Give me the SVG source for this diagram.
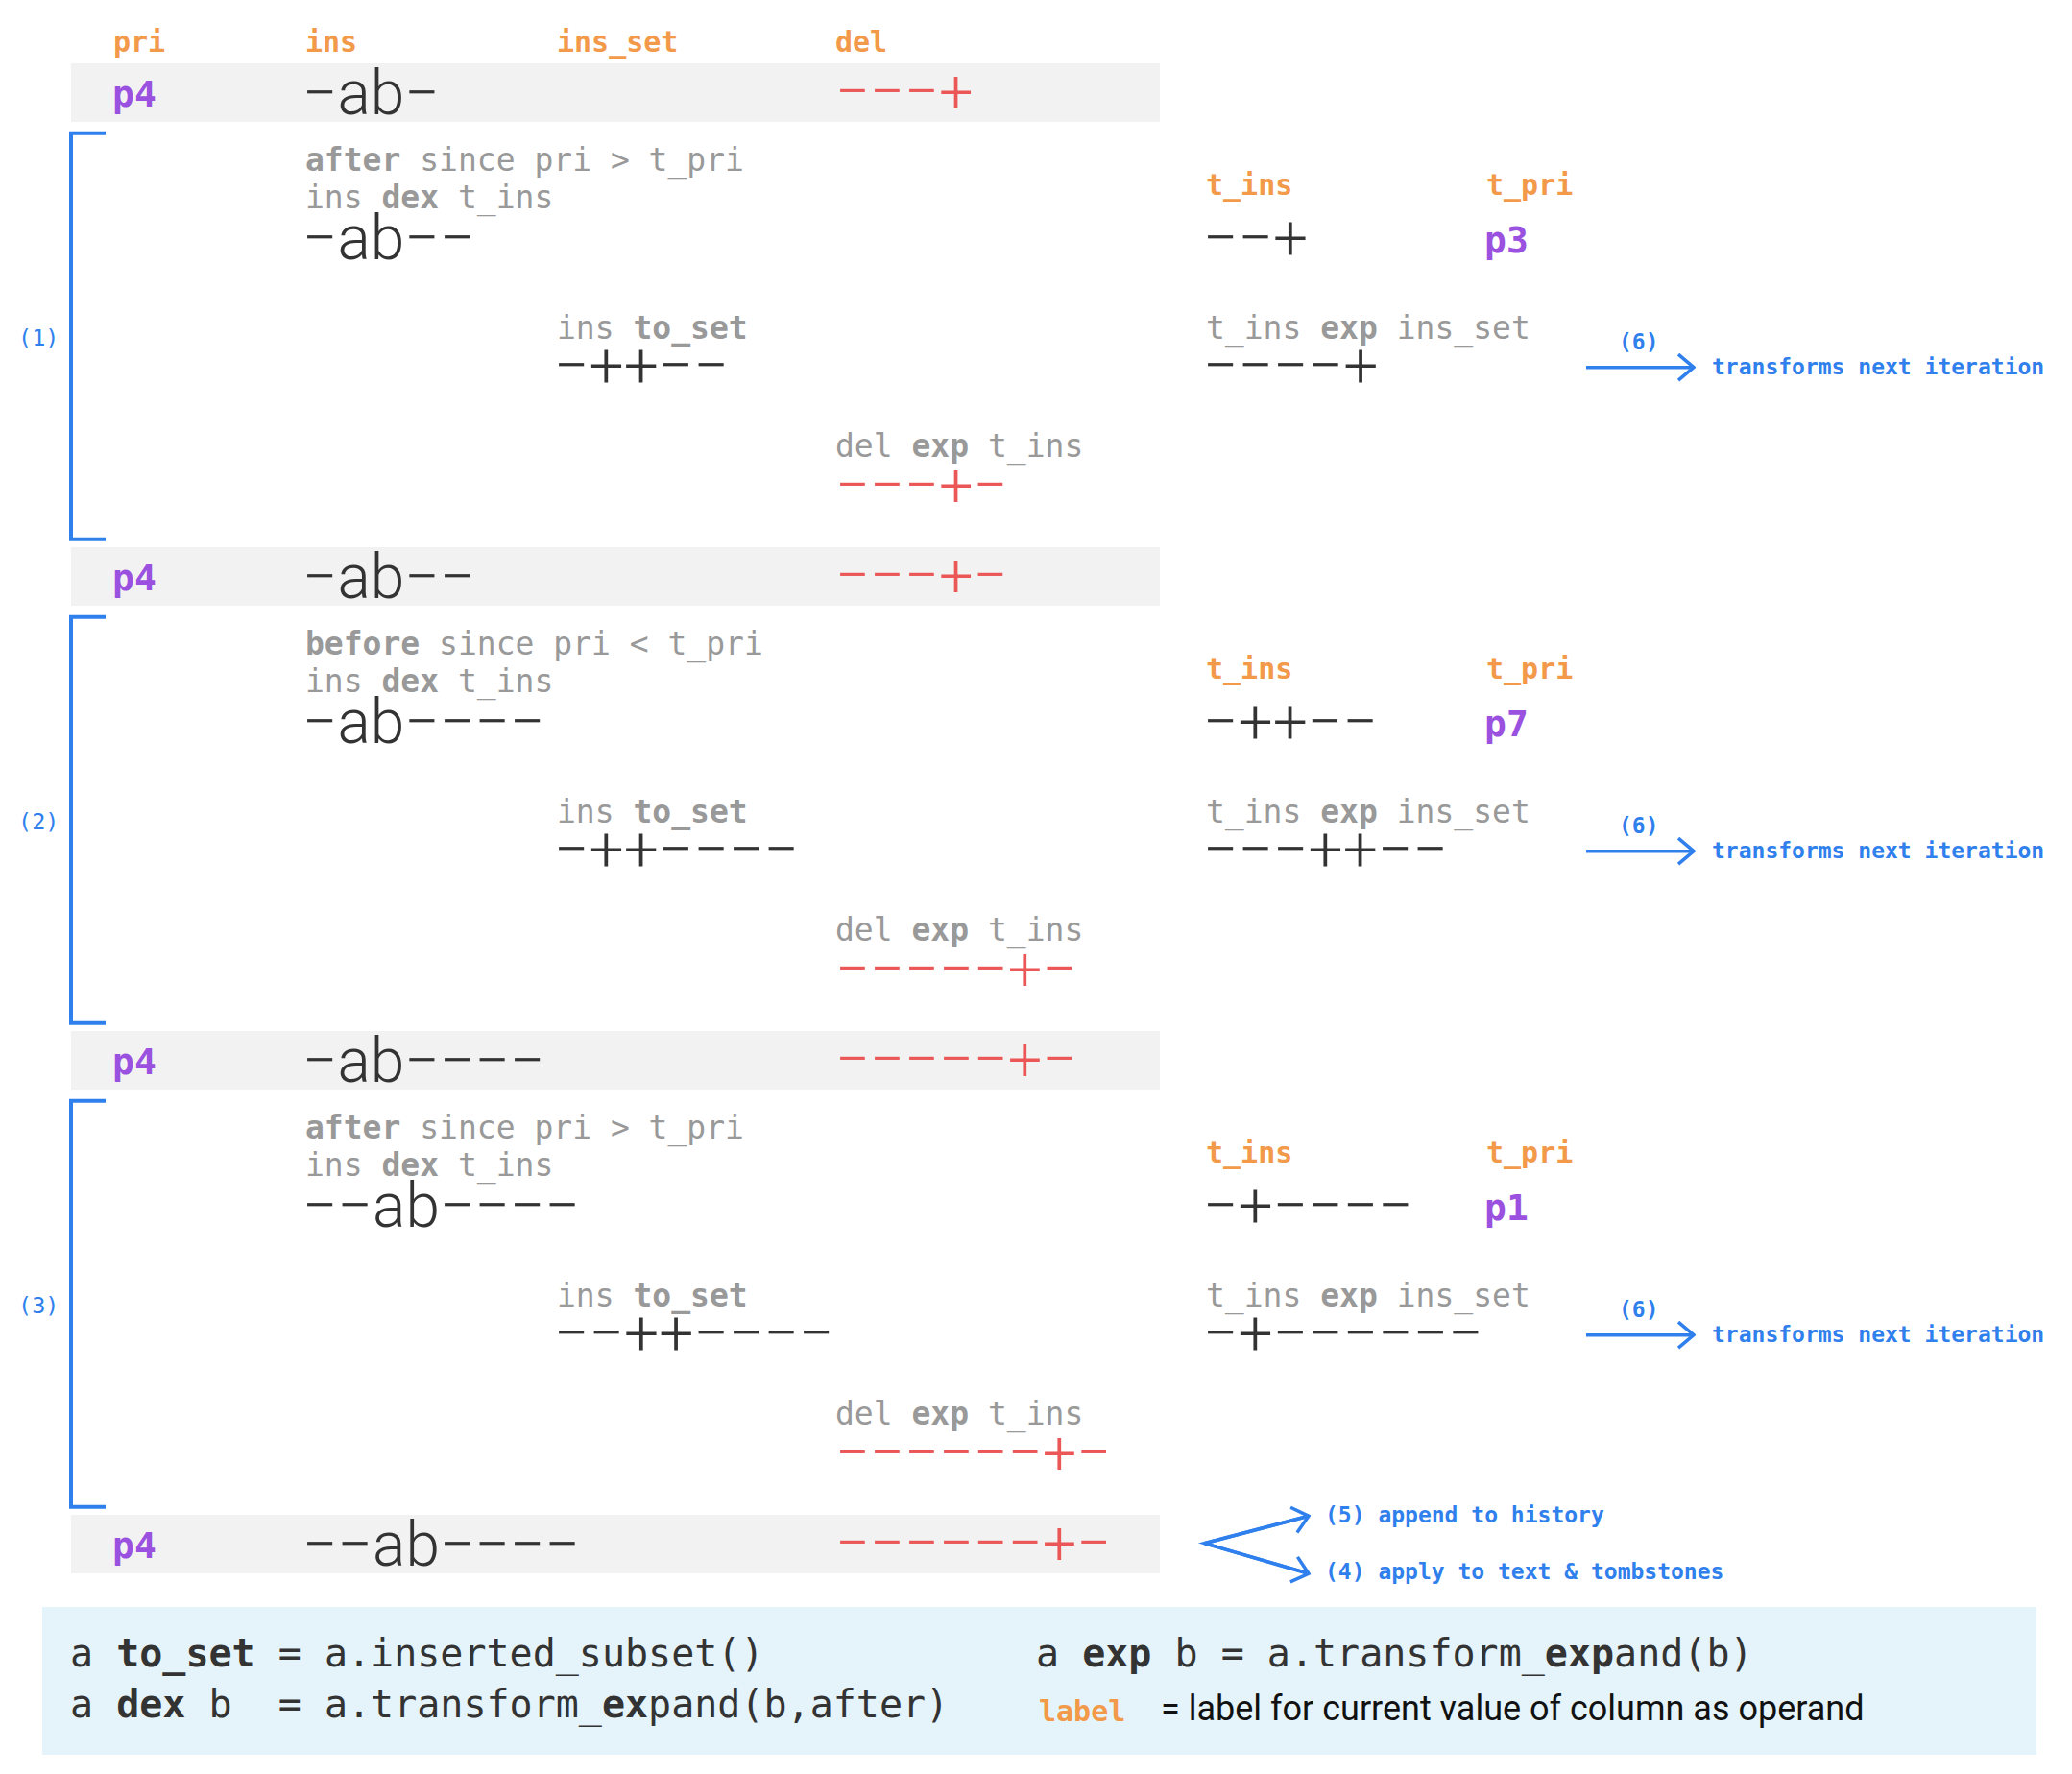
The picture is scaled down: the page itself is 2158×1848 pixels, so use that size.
<svg xmlns="http://www.w3.org/2000/svg" width="2158" height="1848" viewBox="0 0 2158 1848">
<defs>
<style>
.hdr{font-family:'DejaVu Sans Mono',monospace;font-weight:bold;font-size:30px;fill:#F2994A}
.pri{font-family:'DejaVu Sans Mono',monospace;font-weight:bold;font-size:38px;fill:#9B51E0}
.big{font-family:Roboto,'Liberation Sans',sans-serif;font-weight:300;font-size:64px;fill:#333333}
.red{font-family:Roboto,'Liberation Sans',sans-serif;font-weight:300;font-size:63px;fill:#EB5757}
.lbl{font-family:'DejaVu Sans Mono',monospace;font-size:33px;fill:#999999}
.b{font-weight:bold}
.note{font-family:'DejaVu Sans Mono',monospace;font-weight:bold;font-size:23px;fill:#2F80ED}
.num{font-family:'DejaVu Sans Mono',monospace;font-size:23.5px;fill:#2F80ED}
.leg{font-family:'DejaVu Sans Mono',monospace;font-size:40px;fill:#333333}
.legs{font-family:Roboto,'Liberation Sans',sans-serif;font-size:36px;fill:#111111}
.band{fill:#F2F2F2}
.brk{fill:none;stroke:#2F80ED;stroke-width:4}
.arr{fill:none;stroke:#2F80ED;stroke-width:3.5}
</style>
<marker id="chev" markerUnits="userSpaceOnUse" viewBox="-20 -16 22 32" refX="0" refY="0" markerWidth="22" markerHeight="32" orient="auto">
<path d="M-16,-13.5 L0,0 L-16,13.5" fill="none" stroke="#2F80ED" stroke-width="3.5" stroke-linejoin="miter"/>
</marker>
</defs>
<rect width="2158" height="1848" fill="#FFFFFF"/>

<g id="headers">
<text class="hdr" x="118" y="54">pri</text>
<text class="hdr" x="318" y="54">ins</text>
<text class="hdr" x="580" y="54">ins_set</text>
<text class="hdr" x="870" y="54">del</text>
</g>

<g id="band-1">
<rect class="band" x="74" y="66" width="1134" height="61"/>
<text class="pri" x="117" y="110.7">p4</text>
<text class="big" x="315" y="119">&#8722;ab&#8722;</text>
<text class="red" x="870" y="117">&#8722;&#8722;&#8722;+</text>
</g>

<g id="step-1">
<path class="brk" d="M110,138.7 H74 V561.7 H110"/>
<text class="num" x="19" y="359.5">(1)</text>
<text class="lbl" x="318" y="178"><tspan class="b">after</tspan> since pri &gt; t_pri</text>
<text class="lbl" x="318" y="216.5">ins <tspan class="b">dex</tspan> t_ins</text>
<text class="big" x="315" y="269.5">&#8722;ab&#8722;&#8722;</text>
<text class="hdr" x="1256" y="203">t_ins</text>
<text class="hdr" x="1548" y="203">t_pri</text>
<text class="big" x="1253" y="269.5">&#8722;&#8722;+</text>
<text class="pri" x="1546" y="263">p3</text>
<text class="lbl" x="580" y="352.5">ins <tspan class="b">to_set</tspan></text>
<text class="big" x="577" y="402.5">&#8722;++&#8722;&#8722;</text>
<text class="lbl" x="1256" y="352.5">t_ins <tspan class="b">exp</tspan> ins_set</text>
<text class="big" x="1253" y="402.5">&#8722;&#8722;&#8722;&#8722;+</text>
<text class="note" x="1686" y="363.5">(6)</text>
<text class="note" x="1783" y="390">transforms next iteration</text>
<text class="lbl" x="870" y="476">del <tspan class="b">exp</tspan> t_ins</text>
<text class="red" x="870" y="527">&#8722;&#8722;&#8722;+&#8722;</text>
</g>

<g id="band-2">
<rect class="band" x="74" y="570" width="1134" height="61"/>
<text class="pri" x="117" y="614.7">p4</text>
<text class="big" x="315" y="623">&#8722;ab&#8722;&#8722;</text>
<text class="red" x="870" y="621">&#8722;&#8722;&#8722;+&#8722;</text>
</g>

<g id="step-2" transform="translate(0,504)">
<path class="brk" d="M110,138.7 H74 V561.7 H110"/>
<text class="num" x="19" y="359.5">(2)</text>
<text class="lbl" x="318" y="178"><tspan class="b">before</tspan> since pri &lt; t_pri</text>
<text class="lbl" x="318" y="216.5">ins <tspan class="b">dex</tspan> t_ins</text>
<text class="big" x="315" y="269.5">&#8722;ab&#8722;&#8722;&#8722;&#8722;</text>
<text class="hdr" x="1256" y="203">t_ins</text>
<text class="hdr" x="1548" y="203">t_pri</text>
<text class="big" x="1253" y="269.5">&#8722;++&#8722;&#8722;</text>
<text class="pri" x="1546" y="263">p7</text>
<text class="lbl" x="580" y="352.5">ins <tspan class="b">to_set</tspan></text>
<text class="big" x="577" y="402.5">&#8722;++&#8722;&#8722;&#8722;&#8722;</text>
<text class="lbl" x="1256" y="352.5">t_ins <tspan class="b">exp</tspan> ins_set</text>
<text class="big" x="1253" y="402.5">&#8722;&#8722;&#8722;++&#8722;&#8722;</text>
<text class="note" x="1686" y="363.5">(6)</text>
<text class="note" x="1783" y="390">transforms next iteration</text>
<text class="lbl" x="870" y="476">del <tspan class="b">exp</tspan> t_ins</text>
<text class="red" x="870" y="527">&#8722;&#8722;&#8722;&#8722;&#8722;+&#8722;</text>
</g>

<g id="band-3">
<rect class="band" x="74" y="1074" width="1134" height="61"/>
<text class="pri" x="117" y="1118.7">p4</text>
<text class="big" x="315" y="1127">&#8722;ab&#8722;&#8722;&#8722;&#8722;</text>
<text class="red" x="870" y="1125">&#8722;&#8722;&#8722;&#8722;&#8722;+&#8722;</text>
</g>

<g id="step-3" transform="translate(0,1008)">
<path class="brk" d="M110,138.7 H74 V561.7 H110"/>
<text class="num" x="19" y="359.5">(3)</text>
<text class="lbl" x="318" y="178"><tspan class="b">after</tspan> since pri &gt; t_pri</text>
<text class="lbl" x="318" y="216.5">ins <tspan class="b">dex</tspan> t_ins</text>
<text class="big" x="315" y="269.5">&#8722;&#8722;ab&#8722;&#8722;&#8722;&#8722;</text>
<text class="hdr" x="1256" y="203">t_ins</text>
<text class="hdr" x="1548" y="203">t_pri</text>
<text class="big" x="1253" y="269.5">&#8722;+&#8722;&#8722;&#8722;&#8722;</text>
<text class="pri" x="1546" y="263">p1</text>
<text class="lbl" x="580" y="352.5">ins <tspan class="b">to_set</tspan></text>
<text class="big" x="577" y="402.5">&#8722;&#8722;++&#8722;&#8722;&#8722;&#8722;</text>
<text class="lbl" x="1256" y="352.5">t_ins <tspan class="b">exp</tspan> ins_set</text>
<text class="big" x="1253" y="402.5">&#8722;+&#8722;&#8722;&#8722;&#8722;&#8722;&#8722;</text>
<text class="note" x="1686" y="363.5">(6)</text>
<text class="note" x="1783" y="390">transforms next iteration</text>
<text class="lbl" x="870" y="476">del <tspan class="b">exp</tspan> t_ins</text>
<text class="red" x="870" y="527">&#8722;&#8722;&#8722;&#8722;&#8722;&#8722;+&#8722;</text>
</g>

<g id="band-4">
<rect class="band" x="74" y="1578" width="1134" height="61"/>
<text class="pri" x="117" y="1622.7">p4</text>
<text class="big" x="315" y="1631">&#8722;&#8722;ab&#8722;&#8722;&#8722;&#8722;</text>
<text class="red" x="870" y="1629">&#8722;&#8722;&#8722;&#8722;&#8722;&#8722;+&#8722;</text>
</g>

<g id="outputs">
<text class="note" x="1380" y="1586">(5) append to history</text>
<text class="note" x="1380" y="1645">(4) apply to text &amp; tombstones</text>
</g>

<g id="connectors">
<line class="arr" x1="1652" y1="382.7" x2="1764" y2="382.7" marker-end="url(#chev)"/>
<line class="arr" x1="1652" y1="886.7" x2="1764" y2="886.7" marker-end="url(#chev)"/>
<line class="arr" x1="1652" y1="1390.7" x2="1764" y2="1390.7" marker-end="url(#chev)"/>
<polyline class="arr" points="1363,1579.3 1254.5,1607.7 1363,1639.3"/>
<line class="arr" x1="1254.5" y1="1607.7" x2="1363" y2="1579.3" marker-end="url(#chev)"/>
<line class="arr" x1="1254.5" y1="1607.7" x2="1363" y2="1639.3" marker-end="url(#chev)"/>
</g>

<g id="legend">
<rect x="44" y="1674" width="2077" height="154" fill="#E5F4FA"/>
<text class="leg" x="73" y="1736"><tspan>a </tspan><tspan class="b">to_set</tspan><tspan> = a.inserted_subset()</tspan></text>
<text class="leg" x="73" y="1789" xml:space="preserve">a <tspan class="b">dex</tspan> b  = a.transform_<tspan class="b">ex</tspan>pand(b,after)</text>
<text class="leg" x="1079" y="1736">a <tspan class="b">exp</tspan> b = a.transform_<tspan class="b">exp</tspan>and(b)</text>
<text class="hdr" x="1082" y="1793">label</text>
<text class="legs" x="1209" y="1792">= label for current value of column as operand</text>
</g>
</svg>
